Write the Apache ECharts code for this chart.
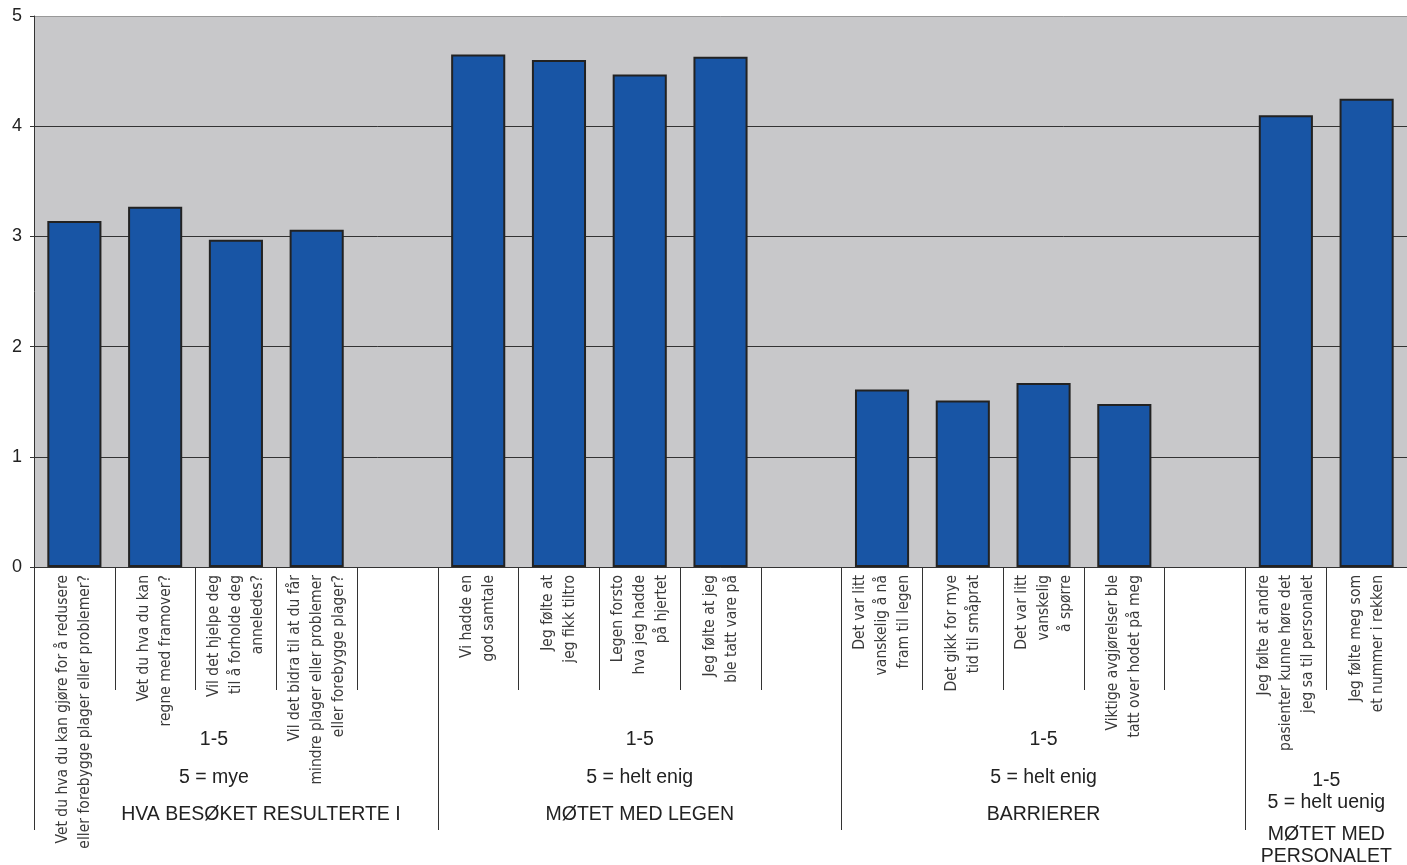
<!DOCTYPE html>
<html>
<head>
<meta charset="utf-8">
<script src="https://cdn.jsdelivr.net/npm/echarts@6/dist/echarts.min.js"></script>
<style>
  html, body { margin: 0; padding: 0; background: #fff; }
  #chart { width: 1407px; height: 865px; }
</style>
</head>
<body>
<div id="chart"></div>
<script>
const questions = [
  'Vet du hva du kan gjøre for å redusere\neller forebygge plager eller problemer?',
  'Vet du hva du kan\nregne med framover?',
  'Vil det hjelpe deg\ntil å forholde deg\nanneledes?',
  'Vil det bidra til at du får\nmindre plager eller problemer\neller forebygge plager?',
  ' ',
  'Vi hadde en\ngod samtale',
  'Jeg følte at\njeg fikk tiltro',
  'Legen forsto\nhva jeg hadde\npå hjertet',
  'Jeg følte at jeg\nble tatt vare på',
  '  ',
  'Det var litt\nvanskelig å nå\nfram til legen',
  'Det gikk for mye\ntid til småprat',
  'Det var litt\nvanskelig\nå spørre',
  'Viktige avgjørelser ble\ntatt over hodet på meg',
  '   ',
  'Jeg følte at andre\npasienter kunne høre det\njeg sa til personalet',
  'Jeg følte meg som\net nummer i rekken'
]
const scores = [3.14, 3.27, 2.97, 3.06, '-', 4.65, 4.60, 4.47, 4.63, '-', 1.61, 1.51, 1.67, 1.48, '-', 4.10, 4.25]

// group boundaries and centres, counted in categories
const groupStarts = [0, 5, 10, 15]
const groupCentres = [2.5, 7.5, 12.5, 16]
const groupNames = ['HVA BESØKET RESULTERTE I', 'MØTET MED LEGEN', 'BARRIERER', 'MØTET MED\nPERSONALET']
const groupScales = ['1-5\n5 = mye', '1-5\n5 = helt enig', '1-5\n5 = helt enig', '1-5\n5 = helt uenig']

const chart = echarts.init(document.getElementById('chart'))

function groupLabel(value) {
  const i = groupCentres.indexOf(value)
  if (i < 0) return ''
  const scale = groupScales[i].split('\n')
  const name = groupNames[i].split('\n')
  if (i === groupCentres.length - 1) {
    return ['{sp|}', '{p|' + scale[0] + '}', '{p|' + scale[1] + '}', '{gap|}']
      .concat(name.map(n => '{p|' + n + '}')).join('\n')
  }
  // the first group's scale text sits a little left of its title in the original
  const s = i === 0 ? 'gl' : 'g'
  const n = i === 0 ? 'gn' : 'g'
  return ['{' + s + '|' + scale[0] + '}', '{' + s + '|' + scale[1] + '}', '{' + n + '|' + name[0] + '}'].join('\n')
}

const labelFont = '"Liberation Sans", Arial, sans-serif'

chart.setOption({
  animation: false,
  grid: {
    left: 34,
    right: 0,
    top: 16,
    bottom: 298,
    outerBoundsMode: 'none',
    containLabel: false,
    show: true,
    backgroundColor: '#c8c8ca',
    borderWidth: 0
  },
  xAxis: [
    {
      type: 'category',
      data: questions,
      position: 'bottom',
      axisLine: { lineStyle: { color: '#333', width: 1 } },
      axisTick: { show: true, interval: 0, length: 123, lineStyle: { color: '#333' } },
      axisLabel: {
        interval: 0,
        rotate: 90,
        margin: 8,
        fontFamily: '"Liberation Sans Narrow", "DejaVu Sans Condensed", "Liberation Sans", sans-serif',
        fontSize: 15.5,
        lineHeight: 22,
        color: '#3a3a3a'
      }
    },
    {
      type: 'value',
      min: 0,
      max: questions.length,
      position: 'bottom',
      axisLine: { show: false },
      splitLine: { show: false },
      axisTick: { show: true, customValues: groupStarts, length: 263, lineStyle: { color: '#333' } },
      axisLabel: {
        customValues: groupCentres,
        margin: 154,
        formatter: groupLabel,
        rich: {
          g: { fontFamily: labelFont, fontSize: 19.5, lineHeight: 37.5, color: '#222' },
          gl: { fontFamily: labelFont, fontSize: 19.5, lineHeight: 37.5, color: '#222', padding: [0, 44, 0, 0] },
          gn: { fontFamily: labelFont, fontSize: 19.5, lineHeight: 37.5, color: '#222', padding: [0, 0, 0, 50] },
          p: { fontFamily: labelFont, fontSize: 19.5, lineHeight: 22, color: '#222' },
          sp: { fontSize: 1, lineHeight: 49 },
          gap: { fontSize: 1, lineHeight: 10 }
        }
      }
    }
  ],
  yAxis: {
    type: 'value',
    min: 0,
    max: 5,
    interval: 1,
    axisLine: { show: true, lineStyle: { color: '#333' } },
    axisTick: { show: true, length: 4, lineStyle: { color: '#333' } },
    axisLabel: {
      margin: 12,
      fontFamily: labelFont,
      fontSize: 18,
      color: '#222'
    },
    splitLine: {
      lineStyle: { color: ['#333', '#333', '#333', '#333', '#333', '#999'], width: 1 }
    }
  },
  series: [
    {
      type: 'bar',
      xAxisIndex: 0,
      data: scores,
      barWidth: '67%',
      itemStyle: { color: '#1855a5', borderColor: '#222', borderWidth: 2 }
    }
  ]
})
</script>
</body>
</html>
